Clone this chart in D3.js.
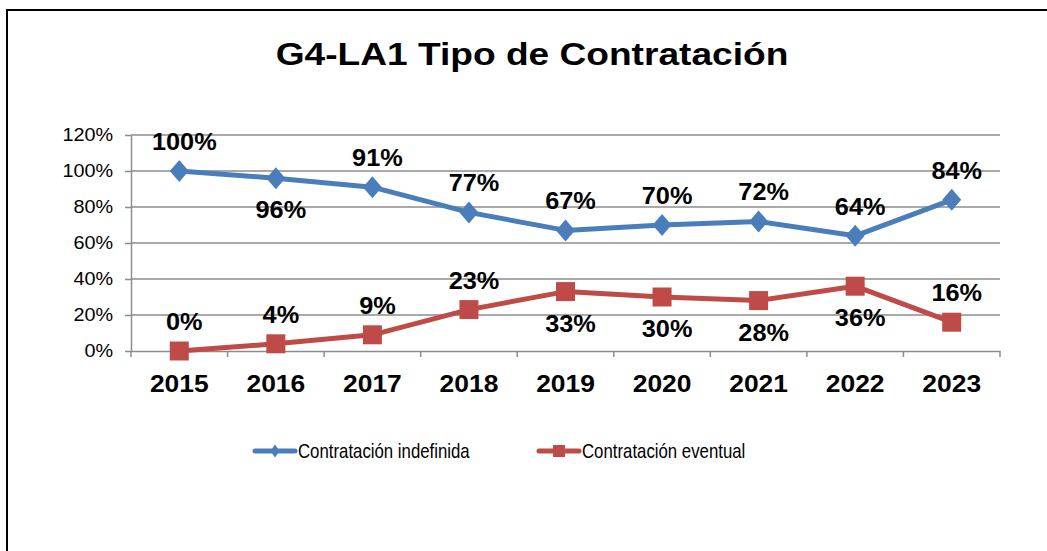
<!DOCTYPE html>
<html>
<head>
<meta charset="utf-8">
<script src="https://cdn.jsdelivr.net/npm/d3@7"></script>
<style>
  body { margin: 0; background: #fff; }
  svg { display: block; font-family: 'Liberation Sans', Arial, sans-serif; }
</style>
</head>
<body>
<svg id="chart" width="1047" height="551"></svg>
<script>
'use strict'

const years = ['2015', '2016', '2017', '2018', '2019', '2020', '2021', '2022', '2023']
const indefinida = [100, 96, 91, 77, 67, 70, 72, 64, 84]
const eventual = [0, 4, 9, 23, 33, 30, 28, 36, 16]
// label above (-1) or below (1) the point
const indefinidaPos = [-1, 1, -1, -1, -1, -1, -1, -1, -1]
const eventualPos = [-1, -1, -1, -1, 1, 1, 1, 1, -1]
const yTicks = [0, 20, 40, 60, 80, 100, 120]
const seriesNames = ['Contratación indefinida', 'Contratación eventual']

let svg = d3.select('#chart')

// outer frame (only left and top edges inside the picture)
svg.append('rect')
    .attr('x', 7).attr('y', 10)
    .attr('width', 1060).attr('height', 560)
    .attr('fill', 'none').attr('stroke', '#000').attr('stroke-width', 2)

svg.append('text')
    .attr('transform', 'translate(532, 65) scale(1.16, 1)')
    .attr('text-anchor', 'middle')
    .attr('font-size', '32px').attr('font-weight', 'bold')
    .text('G4-LA1 Tipo de Contratación')

let margin = { left: 131, right: 1000, top: 135, bottom: 351 }

let x = d3.scaleBand().domain(years).range([margin.left, margin.right])
let y = d3.scaleLinear().domain([0, 120]).range([margin.bottom, margin.top])

let g = svg.append('g')

// gridlines
g.selectAll('line.grid')
    .data(yTicks.filter(d => d > 0))
    .enter()
    .append('line')
    .attr('x1', margin.left).attr('x2', margin.right)
    .attr('y1', d => y(d)).attr('y2', d => y(d))
    .attr('stroke', '#8c8c8c').attr('stroke-width', 1.5)

// y axis
let yAxis = g.append('g')
    .attr('transform', `translate(${margin.left}, 0)`)
    .call(d3.axisLeft(y).tickValues(yTicks).tickFormat(d => d + '%').tickSize(6).tickSizeOuter(0))
yAxis.select('.domain').attr('stroke', '#8c8c8c').attr('stroke-width', 1.5)
yAxis.selectAll('.tick line').attr('stroke', '#8c8c8c').attr('stroke-width', 1.5)
yAxis.selectAll('.tick text')
    .attr('x', null)
    .attr('transform', 'translate(-18, 0) scale(1.1, 1)')
    .attr('font-size', '18px').attr('fill', '#000')
    .style('font-family', "'Liberation Sans', Arial, sans-serif")

// x axis
let xAxis = g.append('g')
    .attr('transform', `translate(0, ${margin.bottom})`)
    .call(d3.axisBottom(x).tickSize(0))
xAxis.select('.domain').attr('stroke', '#8c8c8c').attr('stroke-width', 1.5)
xAxis.selectAll('.tick text')
    .attr('y', null).attr('dy', null)
    .attr('transform', 'translate(0, 41) scale(1.1, 1)')
    .attr('font-size', '24px').attr('font-weight', 'bold').attr('fill', '#000')
    .style('font-family', "'Liberation Sans', Arial, sans-serif")
g.selectAll('line.xtick')
    .data(years.map(d => x(d)).concat([margin.right]))
    .enter()
    .append('line')
    .attr('x1', d => d).attr('x2', d => d)
    .attr('y1', margin.bottom).attr('y2', margin.bottom + 6)
    .attr('stroke', '#8c8c8c').attr('stroke-width', 1.5)

let cx = d => x(d) + x.bandwidth() / 2
let line = d3.line().x(d => cx(d.year)).y(d => y(d.value))

const diamond = (w, h) => `M0,${-h / 2}L${w / 2},0L0,${h / 2}L${-w / 2},0Z`
const square = s => `M${-s / 2},${-s / 2}h${s}v${s}h${-s}Z`

let series = [
    { name: seriesNames[0], values: indefinida, pos: indefinidaPos, color: '#4a7ebb', marker: diamond(19, 22), legendMarker: diamond(9, 13) },
    { name: seriesNames[1], values: eventual, pos: eventualPos, color: '#be4b48', marker: square(19), legendMarker: square(12) }
]

series.forEach(s => {
    let pts = years.map((yr, i) => ({ year: yr, value: s.values[i], pos: s.pos[i] }))
    g.append('path')
        .datum(pts)
        .attr('d', line)
        .attr('fill', 'none')
        .attr('stroke', s.color)
        .attr('stroke-width', 5)
        .attr('stroke-linejoin', 'round')

    g.selectAll(null)
        .data(pts)
        .enter()
        .append('path')
        .attr('transform', d => `translate(${cx(d.year)}, ${y(d.value)})`)
        .attr('d', s.marker)
        .attr('fill', s.color)

    g.selectAll(null)
        .data(pts)
        .enter()
        .append('text')
        .attr('transform', d => `translate(${cx(d.year) + 5}, ${y(d.value) + (d.pos < 0 ? -21 : 40)}) scale(1.1, 1)`)
        .attr('text-anchor', 'middle')
        .attr('font-size', '23px')
        .attr('font-weight', 'bold')
        .text(d => d.value + '%')
})

// legend
let legendX = [253, 537]
series.forEach((s, i) => {
    let lg = svg.append('g').attr('transform', `translate(${legendX[i]}, 451)`)
    lg.append('line')
        .attr('x1', 2).attr('x2', 42)
        .attr('stroke', s.color).attr('stroke-width', 5).attr('stroke-linecap', 'round')
    lg.append('path')
        .attr('transform', 'translate(22, 0)')
        .attr('d', s.legendMarker)
        .attr('fill', s.color)
    lg.append('text')
        .attr('transform', 'translate(45, 7) scale(0.84, 1)')
        .attr('font-size', '20px')
        .text(s.name)
})
</script>
</body>
</html>
